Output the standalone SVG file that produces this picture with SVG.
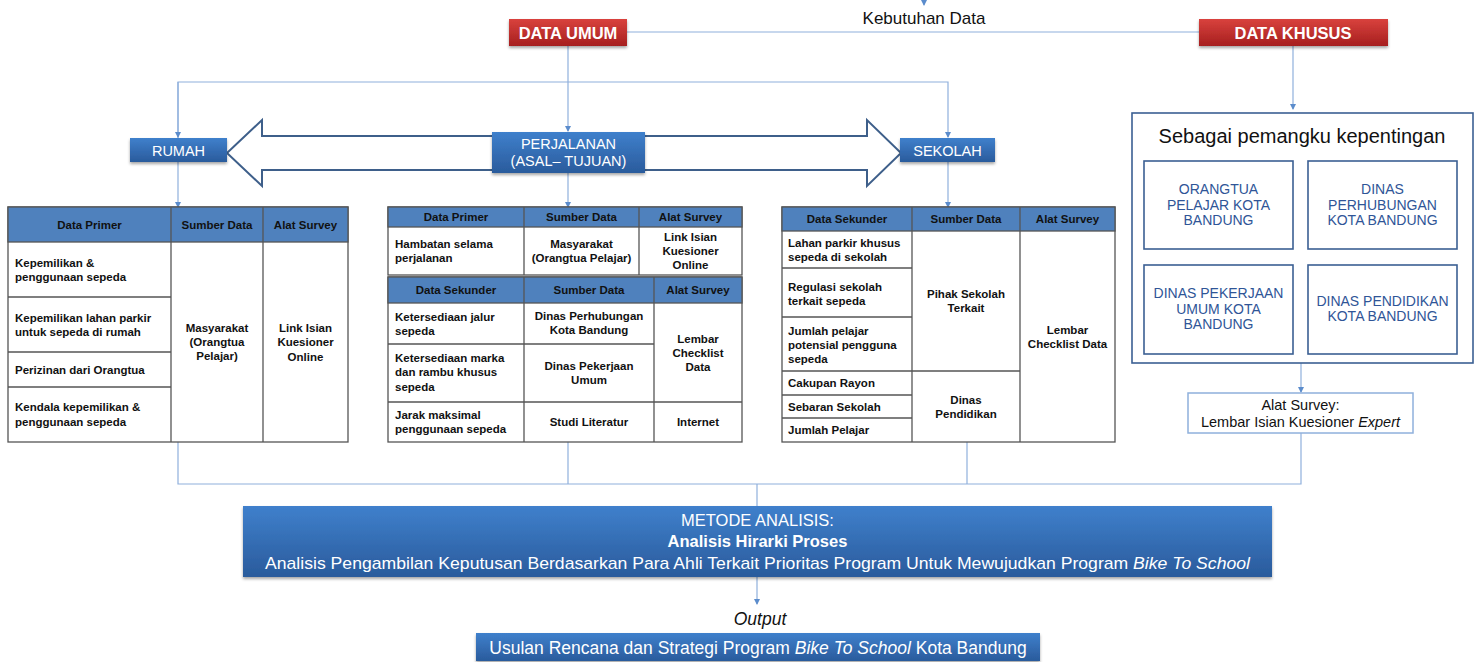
<svg xmlns="http://www.w3.org/2000/svg" width="1479" height="662" viewBox="0 0 1479 662">
<defs>
<linearGradient id="gBlue" x1="0" y1="0" x2="0" y2="1"><stop offset="0" stop-color="#3f80cc"/><stop offset="1" stop-color="#2a5b9c"/></linearGradient>
<linearGradient id="gRed" x1="0" y1="0" x2="0" y2="1"><stop offset="0" stop-color="#d9423d"/><stop offset="1" stop-color="#a61f1f"/></linearGradient>
<filter id="sh" x="-10%" y="-20%" width="120%" height="150%"><feDropShadow dx="0" dy="2" stdDeviation="1.5" flood-color="#000" flood-opacity="0.35"/></filter>
<marker id="ar" viewBox="0 0 6 6" refX="5" refY="3" markerWidth="5" markerHeight="5" orient="auto"><path d="M0,0 L6,3 L0,6 z" fill="#5b8ccc"/></marker>
</defs>
<style>
text{font-family:"Liberation Sans",Arial,sans-serif}
.con{fill:none;stroke:#8fb0dc;stroke-width:1.2}
.blue{fill:url(#gBlue);filter:url(#sh)}
.red{fill:url(#gRed);filter:url(#sh)}
.wt{fill:#fff;text-anchor:middle}
.tb{fill:#fff;stroke:#555;stroke-width:1.3}
.th{fill:#4f81bd;stroke:#555;stroke-width:1.3}
.ln{stroke:#555;stroke-width:1.3}
.t{font-size:11.5px;font-weight:bold;fill:#111}
.c{text-anchor:middle}
.ib{fill:#fff;stroke:#3b5f93;stroke-width:1.6}
.it{font-size:14px;fill:#2f5597;text-anchor:middle}
</style>

<g id="connectors">
<line class="con" x1="924" y1="0" x2="924" y2="5" marker-end="url(#ar)"/>
<line class="con" x1="627" y1="32" x2="1199" y2="32"/>
<line class="con" x1="568" y1="46" x2="568" y2="131" marker-end="url(#ar)"/>
<polyline class="con" points="178,138 178,82 948,82 948,137" marker-end="url(#ar)"/>
<line class="con" x1="178" y1="82" x2="178" y2="137" marker-end="url(#ar)"/>
<line class="con" x1="1293" y1="46" x2="1293" y2="109" marker-end="url(#ar)"/>
<line class="con" x1="178" y1="162" x2="178" y2="207" marker-end="url(#ar)"/>
<line class="con" x1="568" y1="173" x2="568" y2="207" marker-end="url(#ar)"/>
<line class="con" x1="948" y1="162" x2="948" y2="207" marker-end="url(#ar)"/>
<line class="con" x1="1301" y1="363" x2="1301" y2="392" marker-end="url(#ar)"/>
<polyline class="con" points="178,442 178,484 1301,484 1301,433"/>
<line class="con" x1="568" y1="442" x2="568" y2="484"/>
<line class="con" x1="967" y1="442" x2="967" y2="484"/>
<line class="con" x1="757" y1="484" x2="757" y2="506"/>
<line class="con" x1="757" y1="577" x2="757" y2="604" marker-end="url(#ar)"/>
</g>

<g id="kebutuhan"><text x="924" y="24" font-size="17" text-anchor="middle" fill="#111">Kebutuhan Data</text></g>

<g id="data-umum"><rect class="red" x="509" y="19" width="118" height="27"/><text class="wt" x="568" y="38.5" font-size="16.5" font-weight="bold">DATA UMUM</text></g>
<g id="data-khusus"><rect class="red" x="1199" y="19" width="189" height="27"/><text class="wt" x="1293" y="38.5" font-size="16.5" font-weight="bold">DATA KHUSUS</text></g>

<g id="big-arrow"><path d="M227,153 L262,120 L262,136 L867,136 L867,120 L901,153 L867,186 L867,170 L262,170 L262,186 Z" fill="#fff" stroke="#3e5f8a" stroke-width="2"/></g>

<g id="rumah"><rect class="blue" x="130" y="138" width="97" height="24"/><text class="wt" x="178.5" y="155.5" font-size="14.5">RUMAH</text></g>
<g id="perjalanan"><rect class="blue" x="492" y="132" width="153" height="41"/><text class="wt" x="568.5" y="149" font-size="14.5">PERJALANAN</text><text class="wt" x="568.5" y="166" font-size="14.5">(ASAL– TUJUAN)</text></g>
<g id="sekolah"><rect class="blue" x="900" y="138" width="95" height="24"/><text class="wt" x="947.5" y="155.5" font-size="14.5">SEKOLAH</text></g>

<g id="table-rumah">
<rect class="tb" x="8" y="207" width="340" height="235"/>
<rect class="th" x="8" y="207" width="340" height="35"/>
<line class="ln" x1="171" y1="207" x2="171" y2="442"/>
<line class="ln" x1="263" y1="207" x2="263" y2="442"/>
<line class="ln" x1="8" y1="297" x2="171" y2="297"/>
<line class="ln" x1="8" y1="352" x2="171" y2="352"/>
<line class="ln" x1="8" y1="387" x2="171" y2="387"/>
<text class="t c" x="89.5" y="229">Data Primer</text>
<text class="t c" x="217" y="229">Sumber Data</text>
<text class="t c" x="305.5" y="229">Alat Survey</text>
<text class="t" x="15" y="267">Kepemilikan &amp;</text>
<text class="t" x="15" y="281">penggunaan sepeda</text>
<text class="t" x="15" y="322">Kepemilikan lahan parkir</text>
<text class="t" x="15" y="336">untuk sepeda di rumah</text>
<text class="t" x="15" y="374">Perizinan dari Orangtua</text>
<text class="t" x="15" y="411">Kendala kepemilikan &amp;</text>
<text class="t" x="15" y="426">penggunaan sepeda</text>
<text class="t c" x="217" y="332">Masyarakat</text>
<text class="t c" x="217" y="346">(Orangtua</text>
<text class="t c" x="217" y="360">Pelajar)</text>
<text class="t c" x="305.5" y="332">Link Isian</text>
<text class="t c" x="305.5" y="346">Kuesioner</text>
<text class="t c" x="305.5" y="361">Online</text>
</g>

<g id="table-perjalanan">
<rect class="tb" x="388" y="207" width="354" height="68"/>
<rect class="th" x="388" y="207" width="354" height="20"/>
<line class="ln" x1="524" y1="207" x2="524" y2="275"/>
<line class="ln" x1="639" y1="207" x2="639" y2="275"/>
<text class="t c" x="456" y="221">Data Primer</text>
<text class="t c" x="581.5" y="221">Sumber Data</text>
<text class="t c" x="690.5" y="221">Alat Survey</text>
<text class="t" x="395" y="248">Hambatan selama</text>
<text class="t" x="395" y="262">perjalanan</text>
<text class="t c" x="581.5" y="248">Masyarakat</text>
<text class="t c" x="581.5" y="262">(Orangtua Pelajar)</text>
<text class="t c" x="690.5" y="241">Link Isian</text>
<text class="t c" x="690.5" y="255">Kuesioner</text>
<text class="t c" x="690.5" y="269">Online</text>
<rect class="tb" x="388" y="277" width="354" height="165"/>
<rect class="th" x="388" y="277" width="354" height="26"/>
<line class="ln" x1="524" y1="277" x2="524" y2="442"/>
<line class="ln" x1="654" y1="277" x2="654" y2="442"/>
<line class="ln" x1="388" y1="344" x2="654" y2="344"/>
<line class="ln" x1="388" y1="402" x2="742" y2="402"/>
<text class="t c" x="456" y="294">Data Sekunder</text>
<text class="t c" x="589" y="294">Sumber Data</text>
<text class="t c" x="698" y="294">Alat Survey</text>
<text class="t" x="395" y="321">Ketersediaan jalur</text>
<text class="t" x="395" y="335">sepeda</text>
<text class="t c" x="589" y="320">Dinas Perhubungan</text>
<text class="t c" x="589" y="334">Kota Bandung</text>
<text class="t" x="395" y="362">Ketersediaan marka</text>
<text class="t" x="395" y="376">dan rambu khusus</text>
<text class="t" x="395" y="391">sepeda</text>
<text class="t c" x="589" y="370">Dinas Pekerjaan</text>
<text class="t c" x="589" y="384">Umum</text>
<text class="t c" x="698" y="343">Lembar</text>
<text class="t c" x="698" y="357">Checklist</text>
<text class="t c" x="698" y="371">Data</text>
<text class="t" x="395" y="419">Jarak maksimal</text>
<text class="t" x="395" y="433">penggunaan sepeda</text>
<text class="t c" x="589" y="426">Studi Literatur</text>
<text class="t c" x="698" y="426">Internet</text>
</g>

<g id="table-sekolah">
<rect class="tb" x="782" y="207" width="333" height="235"/>
<rect class="th" x="782" y="207" width="333" height="24"/>
<line class="ln" x1="912" y1="207" x2="912" y2="442"/>
<line class="ln" x1="1020" y1="207" x2="1020" y2="442"/>
<line class="ln" x1="782" y1="268" x2="912" y2="268"/>
<line class="ln" x1="782" y1="317" x2="912" y2="317"/>
<line class="ln" x1="782" y1="371" x2="1020" y2="371"/>
<line class="ln" x1="782" y1="395" x2="912" y2="395"/>
<line class="ln" x1="782" y1="418" x2="912" y2="418"/>
<text class="t c" x="847" y="223">Data Sekunder</text>
<text class="t c" x="966" y="223">Sumber Data</text>
<text class="t c" x="1067.5" y="223">Alat Survey</text>
<text class="t" x="788" y="247">Lahan parkir khusus</text>
<text class="t" x="788" y="261">sepeda di sekolah</text>
<text class="t" x="788" y="291">Regulasi sekolah</text>
<text class="t" x="788" y="305">terkait sepeda</text>
<text class="t" x="788" y="335">Jumlah pelajar</text>
<text class="t" x="788" y="349">potensial pengguna</text>
<text class="t" x="788" y="363">sepeda</text>
<text class="t" x="788" y="387">Cakupan Rayon</text>
<text class="t" x="788" y="411">Sebaran Sekolah</text>
<text class="t" x="788" y="434">Jumlah Pelajar</text>
<text class="t c" x="966" y="298">Pihak Sekolah</text>
<text class="t c" x="966" y="312">Terkait</text>
<text class="t c" x="966" y="404">Dinas</text>
<text class="t c" x="966" y="418">Pendidikan</text>
<text class="t c" x="1067.5" y="334">Lembar</text>
<text class="t c" x="1067.5" y="348">Checklist Data</text>
</g>

<g id="pemangku">
<rect class="ib" x="1132" y="113" width="341" height="250"/>
<text x="1302" y="143" font-size="20" text-anchor="middle" fill="#111">Sebagai pemangku kepentingan</text>
</g>
<g id="orangtua"><rect class="ib" x="1144" y="161" width="149" height="88"/><text class="it" x="1218.5" y="194">ORANGTUA</text><text class="it" x="1218.5" y="209.5">PELAJAR KOTA</text><text class="it" x="1218.5" y="225">BANDUNG</text></g>
<g id="dishub"><rect class="ib" x="1308" y="161" width="149" height="88"/><text class="it" x="1382.5" y="194">DINAS</text><text class="it" x="1382.5" y="209.5">PERHUBUNGAN</text><text class="it" x="1382.5" y="225">KOTA BANDUNG</text></g>
<g id="dpu"><rect class="ib" x="1144" y="265" width="149" height="89"/><text class="it" x="1218.5" y="298">DINAS PEKERJAAN</text><text class="it" x="1218.5" y="313.5">UMUM KOTA</text><text class="it" x="1218.5" y="329">BANDUNG</text></g>
<g id="disdik"><rect class="ib" x="1308" y="265" width="149" height="89"/><text class="it" x="1382.5" y="305.5">DINAS PENDIDIKAN</text><text class="it" x="1382.5" y="321">KOTA BANDUNG</text></g>

<g id="alat-survey"><rect x="1188" y="393" width="225" height="40" fill="#fff" stroke="#8fb0dc" stroke-width="1.5"/><text x="1300.5" y="410" font-size="14.5" text-anchor="middle" fill="#111">Alat Survey:</text><text x="1300.5" y="427" font-size="14.5" text-anchor="middle" fill="#111">Lembar Isian Kuesioner <tspan font-style="italic">Expert</tspan></text></g>

<g id="metode">
<rect class="blue" x="243" y="506" width="1029" height="71"/>
<text class="wt" x="757.5" y="526" font-size="16.5">METODE ANALISIS:</text>
<text class="wt" x="757.5" y="547" font-size="16.5" font-weight="bold">Analisis Hirarki Proses</text>
<text class="wt" x="757.5" y="569" font-size="17" textLength="985" lengthAdjust="spacingAndGlyphs">Analisis Pengambilan Keputusan Berdasarkan Para Ahli Terkait Prioritas Program Untuk Mewujudkan Program <tspan font-style="italic">Bike To School</tspan></text>
</g>

<g id="output-label"><text x="760" y="625" font-size="17.5" font-style="italic" text-anchor="middle" fill="#111">Output</text></g>
<g id="usulan"><rect class="blue" x="476" y="633" width="564" height="28"/><text class="wt" x="758" y="653.5" font-size="17.5">Usulan Rencana dan Strategi Program <tspan font-style="italic">Bike To School</tspan> Kota Bandung</text></g>
</svg>
